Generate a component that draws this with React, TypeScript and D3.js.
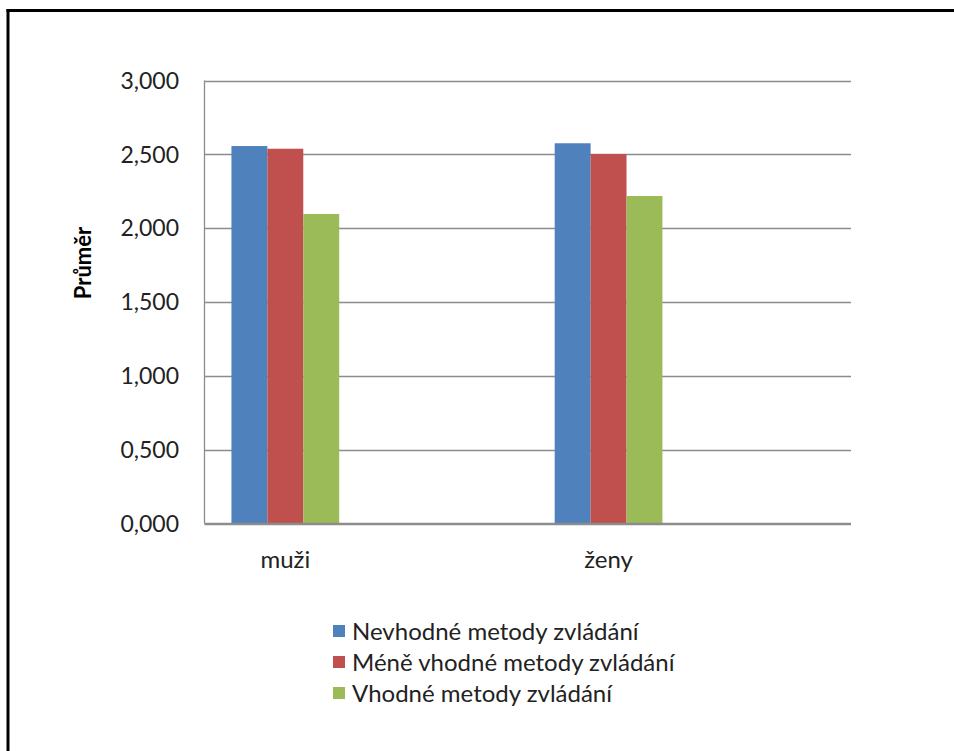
import * as d3 from 'd3';

// Chart values
const categories = ['muži', 'ženy'];
// Excel axis has four category slots, two of them empty
const slots = ['muži', '_empty1', 'ženy', '_empty2'];
const seriesNames = [
  'Nevhodné metody zvládání',
  'Méně vhodné metody zvládání',
  'Vhodné metody zvládání'
];
const nevhodne = [2.556, 2.575];
const meneVhodne = [2.538, 2.502];
const vhodne = [2.096, 2.218];
const seriesValues = [nevhodne, meneVhodne, vhodne];
const seriesColors = ['#4F81BD', '#C0504D', '#9BBB59'];
const yTicks = [0, 0.5, 1, 1.5, 2, 2.5, 3];

const FONT = 'Lato, "Open Sans", sans-serif';

const czech = d3.formatLocale({
  decimal: ',',
  thousands: ' ',
  grouping: [3],
  currency: ['', ' Kč']
});
const fmt = czech.format('.3f');

export default function App() {
  const width = 954;
  const height = 751;
  const plot = { left: 204.5, right: 851, top: 80.5, bottom: 523.5 };

  const x = d3.scaleBand<string>().domain(slots).range([plot.left, plot.right]).padding(0);
  const inner = d3.scaleBand<string>()
    .domain(seriesNames)
    .range([0, x.bandwidth()])
    .paddingInner(0)
    .paddingOuter(0.75);
  const y = d3.scaleLinear().domain([0, 3]).range([plot.bottom, plot.top]);

  return (
    <svg
      width={width}
      height={height}
      style={{ position: 'absolute', left: 0, top: 0, background: '#fff' }}
      fontFamily={FONT}
    >
      {/* frame (top and left edges only) */}
      <line x1={6.5} x2={width} y1={10.5} y2={10.5} stroke="#000" strokeWidth={3} />
      <line x1={8} x2={8} y1={9} y2={height} stroke="#000" strokeWidth={3} />

      {/* gridlines */}
      {yTicks.map(t => (
        <line
          key={t}
          x1={plot.left}
          x2={plot.right}
          y1={Math.round(y(t)) + 0.5}
          y2={Math.round(y(t)) + 0.5}
          stroke="#8C8C8C"
          strokeWidth={1.3}
        />
      ))}

      {/* y axis line */}
      <line x1={plot.left} x2={plot.left} y1={plot.top} y2={plot.bottom} stroke="#8C8C8C" strokeWidth={1.3} />

      {/* y tick labels */}
      {yTicks.map(t => (
        <text
          key={'l' + t}
          x={179}
          y={y(t)}
          dy="0.36em"
          textAnchor="end"
          fontSize={23}
          fill="#222"
        >
          {fmt(t)}
        </text>
      ))}

      {/* bars */}
      {categories.map((c, ci) => (
        <g key={c} transform={`translate(${x(c)},0)`}>
          {seriesNames.map((s, si) => (
            <rect
              key={s}
              x={inner(s)}
              y={y(seriesValues[si][ci])}
              width={inner.bandwidth()}
              height={y(0) - y(seriesValues[si][ci])}
              fill={seriesColors[si]}
            />
          ))}
        </g>
      ))}

      {/* bottom axis line */}
      <line x1={plot.left} x2={plot.right} y1={plot.bottom} y2={plot.bottom} stroke="#8C8C8C" strokeWidth={1.3} />

      {/* category labels */}
      {categories.map(c => (
        <text
          key={'c' + c}
          x={(x(c) ?? 0) + x.bandwidth() / 2}
          y={568}
          textAnchor="middle"
          fontSize={24}
          fill="#222"
        >
          {c}
        </text>
      ))}

      {/* y axis title */}
      <text
        transform={`translate(91,263) rotate(-90)`}
        textAnchor="middle"
        fontSize={22}
        fontWeight="bold"
        fill="#000"
      >
        Průměr
      </text>

      {/* legend */}
      {seriesNames.map((s, i) => (
        <g key={'lg' + s} transform={`translate(333,${631 + i * 31})`}>
          <rect x={0} y={-6} width={12} height={12} fill={seriesColors[i]} />
          <text x={19} y={0} dy="0.36em" fontSize={24} fill="#222">
            {s}
          </text>
        </g>
      ))}
    </svg>
  );
}
